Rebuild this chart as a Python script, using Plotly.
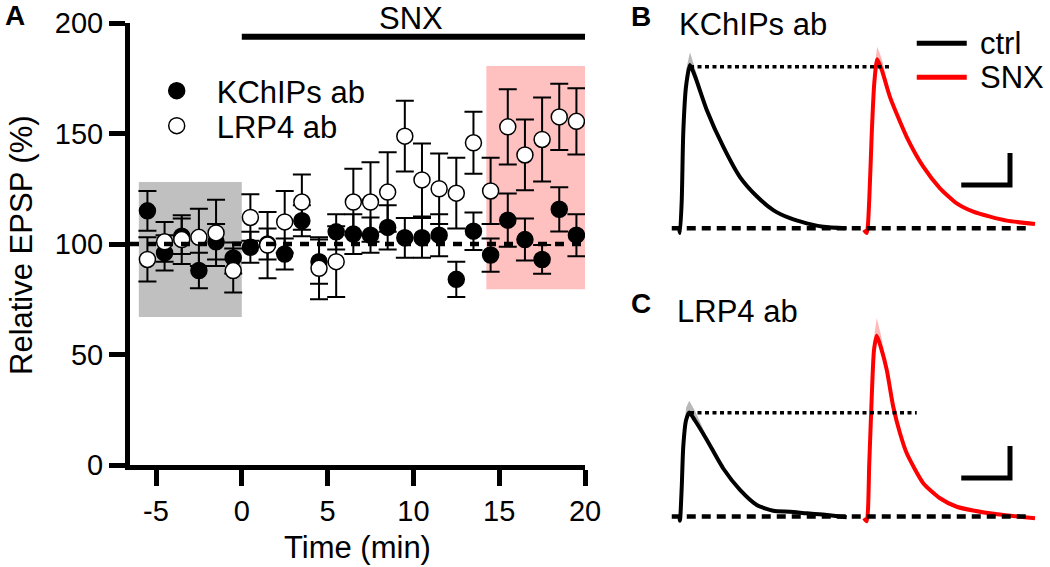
import plotly.graph_objects as go

W, H = 1050, 567
FONT = "Liberation Sans, Arial, sans-serif"

# ---------------- Panel A data ----------------
time_min = [-5.5, -4.5, -3.5, -2.5, -1.5, -0.5, 0.5, 1.5, 2.5, 3.5, 4.5, 5.5, 6.5,
            7.5, 8.5, 9.5, 10.5, 11.5, 12.5, 13.5, 14.5, 15.5, 16.5, 17.5, 18.5, 19.5]
kchips_mean = [115, 96, 103.5, 88, 101, 93.7, 98.5, 100, 95.5, 110.5, 92, 105.5, 104.5,
               104, 107.5, 102.8, 102.8, 104, 84, 105.8, 95, 110.8, 102, 93, 115.7, 104]
kchips_sem = [9, 8, 8, 8, 8, 7, 7, 7, 7, 7, 10, 8, 9,
              8, 10, 9, 9, 9.5, 8, 8.5, 7.5, 12, 9.5, 6.5, 10, 9.5]
lrp4_mean = [93, 101, 102, 103, 105, 88, 112, 99.5, 110, 119, 89, 92, 119,
             119, 123.5, 148.8, 129, 125, 123, 145.8, 124, 153, 140.3, 147.3, 157.5, 155.5]
lrp4_sem = [10, 9, 11, 13, 15, 10, 10.5, 15, 14, 12.5, 14, 16, 15,
            18, 18, 16, 16.5, 16, 16, 14, 15, 17, 16, 19, 15, 15]

x_range = [-6.515, 20]
x_ticks = [-5, 0, 5, 10, 15, 20]
x_tick_text = ["-5", "0", "5", "10", "15", "20"]
y_range = [0, 200]
y_ticks = [0, 50, 100, 150, 200]
baseline_level = [100, 100]
baseline_span = [-6.515, 20]
snx_span = [0, 20]
snx_bar_level = 193.8
ctrl_window = [-6, 0]
ctrl_window_y = [67, 128]
late_window = [14.25, 20.1]
late_window_y = [79.5, 180.5]

# ---------------- Panels B/C traces (time in ms, amplitude in mV) ----------------
b_ctrl_t = [7.7, 8.0, 8.7, 9.3, 10.4, 12.0, 14.0, 18.7, 25.3, 32.0, 38.7, 45.3, 52.0, 58.7, 65.3, 74.7]
b_ctrl_v = [-0.1, -0.3, 1.77, 5.94, 8.85, 10.2, 9.5, 7.4, 5.1, 3.2, 2.0, 1.14, 0.63, 0.31, 0.1, 0.0]
b_snx_t = [81.6, 82.7, 83.7, 84.7, 85.7, 86.9, 88.7, 92.0, 98.7, 105.3, 112.0, 118.7, 125.3, 132.0, 138.7, 150.0]
b_snx_v = [-0.1, -0.3, 1.77, 5.94, 9.06, 10.56, 9.9, 8.2, 5.7, 3.85, 2.5, 1.56, 1.04, 0.73, 0.48, 0.27]
c_ctrl_t = [7.7, 8.0, 8.7, 9.3, 10.4, 11.7, 14.0, 18.7, 25.3, 32.0, 38.7, 45.3, 52.0, 58.7, 66.7, 74.7]
c_ctrl_v = [0.1, -0.26, 1.86, 4.36, 6.0, 6.5, 6.0, 4.8, 3.0, 1.66, 0.72, 0.36, 0.3, 0.2, 0.1, -0.05]
c_snx_t = [81.6, 82.7, 83.7, 84.7, 85.6, 86.7, 88.3, 90.7, 93.3, 96.0, 98.7, 105.3, 112.0, 118.7, 132.0, 150.0]
c_snx_v = [-0.1, -0.3, 3.3, 7.5, 10.4, 11.3, 10.6, 9.16, 6.86, 5.2, 3.95, 2.08, 1.14, 0.61, 0.2, -0.11]

# upper SEM envelope near the peaks
b_ctrl_env_t = [9.0, 10.4, 12.0, 14.0, 18.7]
b_ctrl_env_v = [4.6, 9.9, 11.0, 10.0, 7.6]
b_snx_env_t = [84.5, 85.7, 86.9, 88.7, 92.0]
b_snx_env_v = [6.5, 10.0, 11.35, 10.6, 8.5]
c_ctrl_env_t = [9.0, 10.4, 11.7, 14.0, 18.7]
c_ctrl_env_v = [3.4, 6.8, 7.24, 6.6, 5.0]
c_snx_env_t = [84.5, 85.6, 86.7, 88.3, 90.7]
c_snx_env_v = [7.6, 11.2, 12.4, 11.4, 9.4]

b_peak_level = 10.1
c_peak_level = 6.49
peak_line_span = [12.0, 92.0]
c_peak_line_span = [12.0, 102.7]
zero_line_span = [4.7, 148.0]


def px(x):
    return x / W


def py(y):
    return 1 - y / H


RED = "#ff0000"
fig = go.Figure()

# ----- panel A -----
fig.add_trace(go.Scatter(
    x=time_min, y=kchips_mean, mode="markers", name="KChIPs ab",
    marker=dict(symbol="circle", size=16, color="black", line=dict(color="black", width=1.5)),
    error_y=dict(type="data", array=kchips_sem, color="black", thickness=2, width=9),
    legend="legend", xaxis="x", yaxis="y"))
fig.add_trace(go.Scatter(
    x=time_min, y=lrp4_mean, mode="markers", name="LRP4 ab",
    marker=dict(symbol="circle", size=16, color="white", line=dict(color="black", width=1.5)),
    error_y=dict(type="data", array=lrp4_sem, color="black", thickness=2, width=9),
    legend="legend2", xaxis="x", yaxis="y"))
fig.add_trace(go.Scatter(
    x=baseline_span, y=baseline_level, mode="lines", showlegend=False,
    line=dict(color="black", width=4.5, dash="9px,8px"), xaxis="x", yaxis="y"))


def band(env_t, env_v, tr_t, tr_v):
    sel = [(t, v) for t, v in zip(tr_t, tr_v) if env_t[0] <= t <= env_t[-1]]
    sel = sel[::-1]
    return list(env_t) + [s[0] for s in sel], list(env_v) + [s[1] for s in sel]


def add_panel(xa, ya, ct, cv, st, sv, cet, cev, set_, sev, peak, pspan):
    for et, ev, tt, tv, col in [(cet, cev, ct, cv, "rgba(0,0,0,0.28)"),
                                (set_, sev, st, sv, "rgba(255,0,0,0.28)")]:
        bx, by = band(et, ev, tt, tv)
        fig.add_trace(go.Scatter(x=bx, y=by, mode="lines", fill="toself", fillcolor=col,
                                 line=dict(width=0, color=col), showlegend=False,
                                 xaxis=xa, yaxis=ya, hoverinfo="skip"))
    fig.add_trace(go.Scatter(x=ct, y=cv, mode="lines", showlegend=False,
                             line=dict(color="black", width=4, shape="spline", smoothing=0.6),
                             xaxis=xa, yaxis=ya))
    fig.add_trace(go.Scatter(x=st, y=sv, mode="lines", showlegend=False,
                             line=dict(color=RED, width=4, shape="spline", smoothing=0.6),
                             xaxis=xa, yaxis=ya))
    fig.add_trace(go.Scatter(x=pspan, y=[peak, peak], mode="lines", showlegend=False,
                             line=dict(color="black", width=3.5, dash="4px,3.5px"),
                             xaxis=xa, yaxis=ya))
    fig.add_trace(go.Scatter(x=zero_line_span, y=[0, 0], mode="lines", showlegend=False,
                             line=dict(color="black", width=4.5, dash="9px,6px"),
                             xaxis=xa, yaxis=ya))


add_panel("x2", "y2", b_ctrl_t, b_ctrl_v, b_snx_t, b_snx_v,
          b_ctrl_env_t, b_ctrl_env_v, b_snx_env_t, b_snx_env_v, b_peak_level, peak_line_span)
add_panel("x3", "y3", c_ctrl_t, c_ctrl_v, c_snx_t, c_snx_v,
          c_ctrl_env_t, c_ctrl_env_v, c_snx_env_t, c_snx_env_v, c_peak_level, c_peak_line_span)

axis_common = dict(showline=True, linecolor="black", linewidth=5, ticks="outside",
                   ticklen=16, tickwidth=5, tickcolor="black", showgrid=False,
                   zeroline=False, automargin=False,
                   tickfont=dict(family=FONT, size=29, color="black"))

inv = dict(visible=False, showgrid=False, zeroline=False, fixedrange=True, automargin=False)

shapes = [
    dict(type="rect", xref="x", yref="y", x0=ctrl_window[0], x1=ctrl_window[1],
         y0=ctrl_window_y[0], y1=ctrl_window_y[1], fillcolor="#c0c0c0", line=dict(width=0), layer="below"),
    dict(type="rect", xref="x", yref="y", x0=late_window[0], x1=late_window[1],
         y0=late_window_y[0], y1=late_window_y[1], fillcolor="#ffc0c0", line=dict(width=0), layer="below"),
    dict(type="line", xref="x", yref="y", x0=snx_span[0], x1=snx_span[1],
         y0=snx_bar_level, y1=snx_bar_level, line=dict(color="black", width=6)),
    # legend lines in panel B
    dict(type="line", xref="x2", yref="y2", x0=102.7, x1=122.7, y0=11.56, y1=11.56,
         line=dict(color="black", width=5)),
    dict(type="line", xref="x2", yref="y2", x0=102.7, x1=122.7, y0=9.44, y1=9.44,
         line=dict(color=RED, width=5)),
    # scale bars
    dict(type="path", xref="x2", yref="y2", path="M120.5,2.7 L140,2.7 L140,4.7",
         line=dict(color="black", width=5)),
    dict(type="path", xref="x3", yref="y3", path="M120.5,2.4 L140,2.4 L140,4.4",
         line=dict(color="black", width=5)),
]


def ann(text, x, y, size=31, xref="paper", yref="paper", xanchor="center", yanchor="middle",
        angle=0, bold=False):
    return dict(text=f"<b>{text}</b>" if bold else text, x=x, y=y, xref=xref, yref=yref,
                xanchor=xanchor, yanchor=yanchor, textangle=angle, showarrow=False,
                font=dict(family=FONT, size=size, color="black"))


annotations = [
    ann("A", px(15), py(15), size=28, bold=True),
    ann("B", px(641), py(17), size=28, bold=True),
    ann("C", px(641), py(303), size=28, bold=True),
    ann("Relative EPSP (%)", px(22), py(245), angle=-90),
    ann("Time (min)", px(357.5), py(547)),
    ann("SNX", px(411), py(18)),
    ann("KChIPs ab", px(676.7), py(25), xanchor="left"),
    ann("LRP4 ab", px(675), py(311.7), xanchor="left"),
    ann("ctrl", 127, 11.56, xref="x2", yref="y2", xanchor="left"),
    ann("SNX", 127, 9.44, xref="x2", yref="y2", xanchor="left"),
]

legend_common = dict(font=dict(family=FONT, size=31, color="black"), itemwidth=70,
                     bgcolor="rgba(0,0,0,0)", borderwidth=0, xanchor="left", yanchor="middle")

fig.update_layout(
    width=W, height=H, margin=dict(l=0, r=0, t=0, b=0, pad=0, autoexpand=False),
    paper_bgcolor="white", plot_bgcolor="white",
    font=dict(family=FONT, color="black"),
    xaxis=dict(domain=[px(130), px(585)], range=x_range, tickvals=x_ticks,
               ticktext=x_tick_text, anchor="y", **axis_common),
    yaxis=dict(domain=[py(465), py(23)], range=y_range, tickvals=y_ticks,
               anchor="x", **axis_common),
    xaxis2=dict(domain=[px(660), px(1045)], range=[0, 154], anchor="y2", **inv),
    yaxis2=dict(domain=[py(244.3), py(20.3)], range=[-1, 13], anchor="x2", **inv),
    xaxis3=dict(domain=[px(660), px(1045)], range=[0, 154], anchor="y3", **inv),
    yaxis3=dict(domain=[py(532.5), py(308.5)], range=[-1, 13], anchor="x3", **inv),
    legend=dict(x=px(136.7), y=py(91), **legend_common),
    legend2=dict(x=px(136.7), y=py(126), **legend_common),
    shapes=shapes, annotations=annotations, showlegend=True,
)

fig.write_html("out.html", config={"displayModeBar": False},
               post_script="document.body.style.margin='0px';document.body.style.padding='0px';document.body.style.overflow='hidden';")
